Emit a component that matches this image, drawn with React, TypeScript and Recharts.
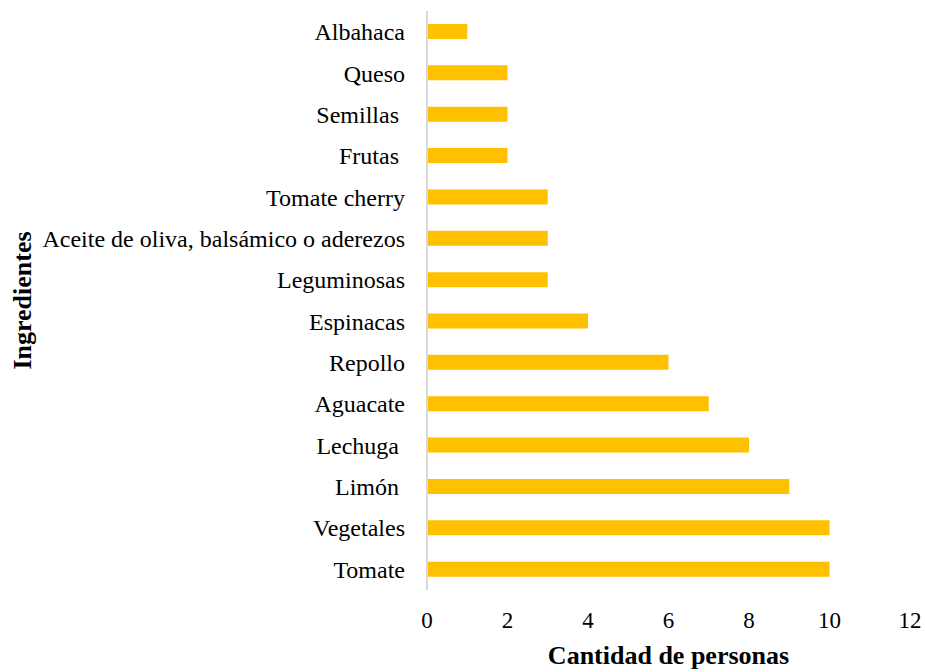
import { BarChart, Bar, XAxis, YAxis, Label } from 'recharts';

const ingredientes = [
  'Albahaca',
  'Queso',
  'Semillas\u00a0',
  'Frutas\u00a0',
  'Tomate cherry',
  'Aceite de oliva, balsámico o aderezos',
  'Leguminosas',
  'Espinacas',
  'Repollo',
  'Aguacate',
  'Lechuga\u00a0',
  'Limón\u00a0',
  'Vegetales',
  'Tomate',
];

const personas = [1, 2, 2, 2, 3, 3, 3, 4, 6, 7, 8, 9, 10, 10];

const xTicks = [0, 2, 4, 6, 8, 10, 12];

const FONT = '"Liberation Serif", "Times New Roman", serif';

export default function App() {
  const data = ingredientes.map((name, i) => ({ name, value: personas[i] }));

  return (
    <div style={{ position: 'absolute', left: 0, top: 0, width: 925, height: 672, background: '#fff' }}>
      <BarChart
        width={925}
        height={672}
        data={data}
        layout="vertical"
        margin={{ top: 11, right: 15, bottom: 0, left: 0 }}
        barCategoryGap={0}
      >
        <XAxis
          type="number"
          domain={[0, 12]}
          ticks={xTicks}
          axisLine={false}
          tickLine={false}
          tickSize={0}
          tickMargin={22}
          height={82}
          tick={{ fontFamily: FONT, fontSize: 23, fill: '#000' }}
        >
          <Label
            value="Cantidad de personas"
            position="insideBottom"
            offset={0}
            dy={-8}
            style={{ fontFamily: FONT, fontSize: 26, fontWeight: 'bold', fill: '#000' }}
          />
        </XAxis>
        <YAxis
          type="category"
          dataKey="name"
          width={427}
          axisLine={{ stroke: '#d9d9d9', strokeWidth: 2 }}
          tickLine={false}
          tickSize={0}
          tickMargin={22}
          interval={0}
          tick={{ fontFamily: FONT, fontSize: 24, fill: '#000' }}
        >
          <Label
            value="Ingredientes"
            angle={-90}
            position="insideLeft"
            offset={0}
            dx={22}
            style={{ fontFamily: FONT, fontSize: 26, fontWeight: 'bold', fill: '#000', textAnchor: 'middle' }}
          />
        </YAxis>
        <Bar dataKey="value" fill="#FFC000" barSize={15} isAnimationActive={false} />
      </BarChart>
    </div>
  );
}
